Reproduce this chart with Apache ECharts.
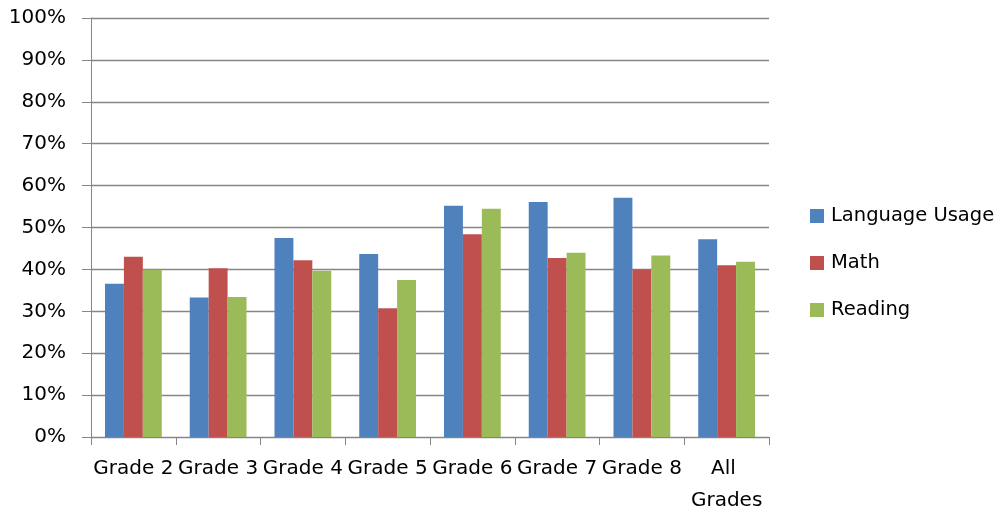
<!DOCTYPE html>
<html>
<head>
<meta charset="utf-8">
<style>
  html, body { margin: 0; padding: 0; background: #fff; }
  #chart { width: 1005px; height: 513px; }
</style>
<script src="https://cdn.jsdelivr.net/npm/echarts@6/dist/echarts.min.js"></script>
</head>
<body>
<div id="chart"></div>
<script>
// Share of students per grade, by subject (percent)
const categories = ['Grade 2', 'Grade 3', 'Grade 4', 'Grade 5', 'Grade 6', 'Grade 7', 'Grade 8', 'All Grades'];
const languageUsage = [36.6, 33.3, 47.5, 43.7, 55.2, 56.1, 57.1, 47.2];
const math          = [43.0, 40.3, 42.2, 30.7, 48.4, 42.7, 40.0, 41.0];
const reading       = [39.9, 33.4, 39.7, 37.5, 54.5, 44.0, 43.3, 41.8];
const yTicks = [0, 10, 20, 30, 40, 50, 60, 70, 80, 90, 100];

const FONT = 'DejaVu Sans';
const axisGray = '#868686';

const chart = echarts.init(document.getElementById('chart'), null, { renderer: 'canvas' });

function barSeries(name, data, color) {
  return {
    name: name,
    type: 'bar',
    data: data,
    barGap: '0%',
    barCategoryGap: '33%',
    itemStyle: { color: color },
    emphasis: { disabled: true }
  };
}

chart.setOption({
  animation: false,
  backgroundColor: '#ffffff',
  textStyle: { fontFamily: FONT },
  grid: {
    left: 91, right: 236, top: 18, bottom: 76,
    containLabel: false,
    outerBoundsMode: 'none'
  },
  legend: {
    orient: 'vertical',
    left: 810,
    top: 206,
    padding: 0,
    itemWidth: 14,
    itemHeight: 14,
    itemGap: 27,
    icon: 'rect',
    textStyle: { fontFamily: FONT, fontSize: 19.5, color: '#000', padding: [0, 0, 0, 2] },
    data: ['Language Usage', 'Math', 'Reading']
  },
  xAxis: {
    type: 'category',
    data: categories,
    axisLine: { lineStyle: { color: axisGray, width: 1 } },
    axisTick: { show: true, length: 8, alignWithLabel: false, lineStyle: { color: axisGray } },
    axisLabel: {
      interval: 0,
      color: '#000',
      fontFamily: FONT,
      fontSize: 20,
      margin: 16,
      width: 84,
      overflow: 'break',
      lineHeight: 32
    }
  },
  yAxis: {
    type: 'value',
    min: yTicks[0],
    max: yTicks[yTicks.length - 1],
    interval: 10,
    axisLine: { show: true, lineStyle: { color: axisGray, width: 1 } },
    axisTick: { show: true, length: 9, lineStyle: { color: axisGray } },
    splitLine: { show: true, lineStyle: { color: axisGray, width: 1.4 } },
    axisLabel: {
      color: '#000',
      fontFamily: FONT,
      fontSize: 20,
      margin: 25,
      formatter: function (v) { return v + '%'; }
    }
  },
  series: [
    barSeries('Language Usage', languageUsage, '#4F81BD'),
    barSeries('Math', math, '#C0504D'),
    barSeries('Reading', reading, '#9BBB59')
  ]
});
</script>
</body>
</html>
